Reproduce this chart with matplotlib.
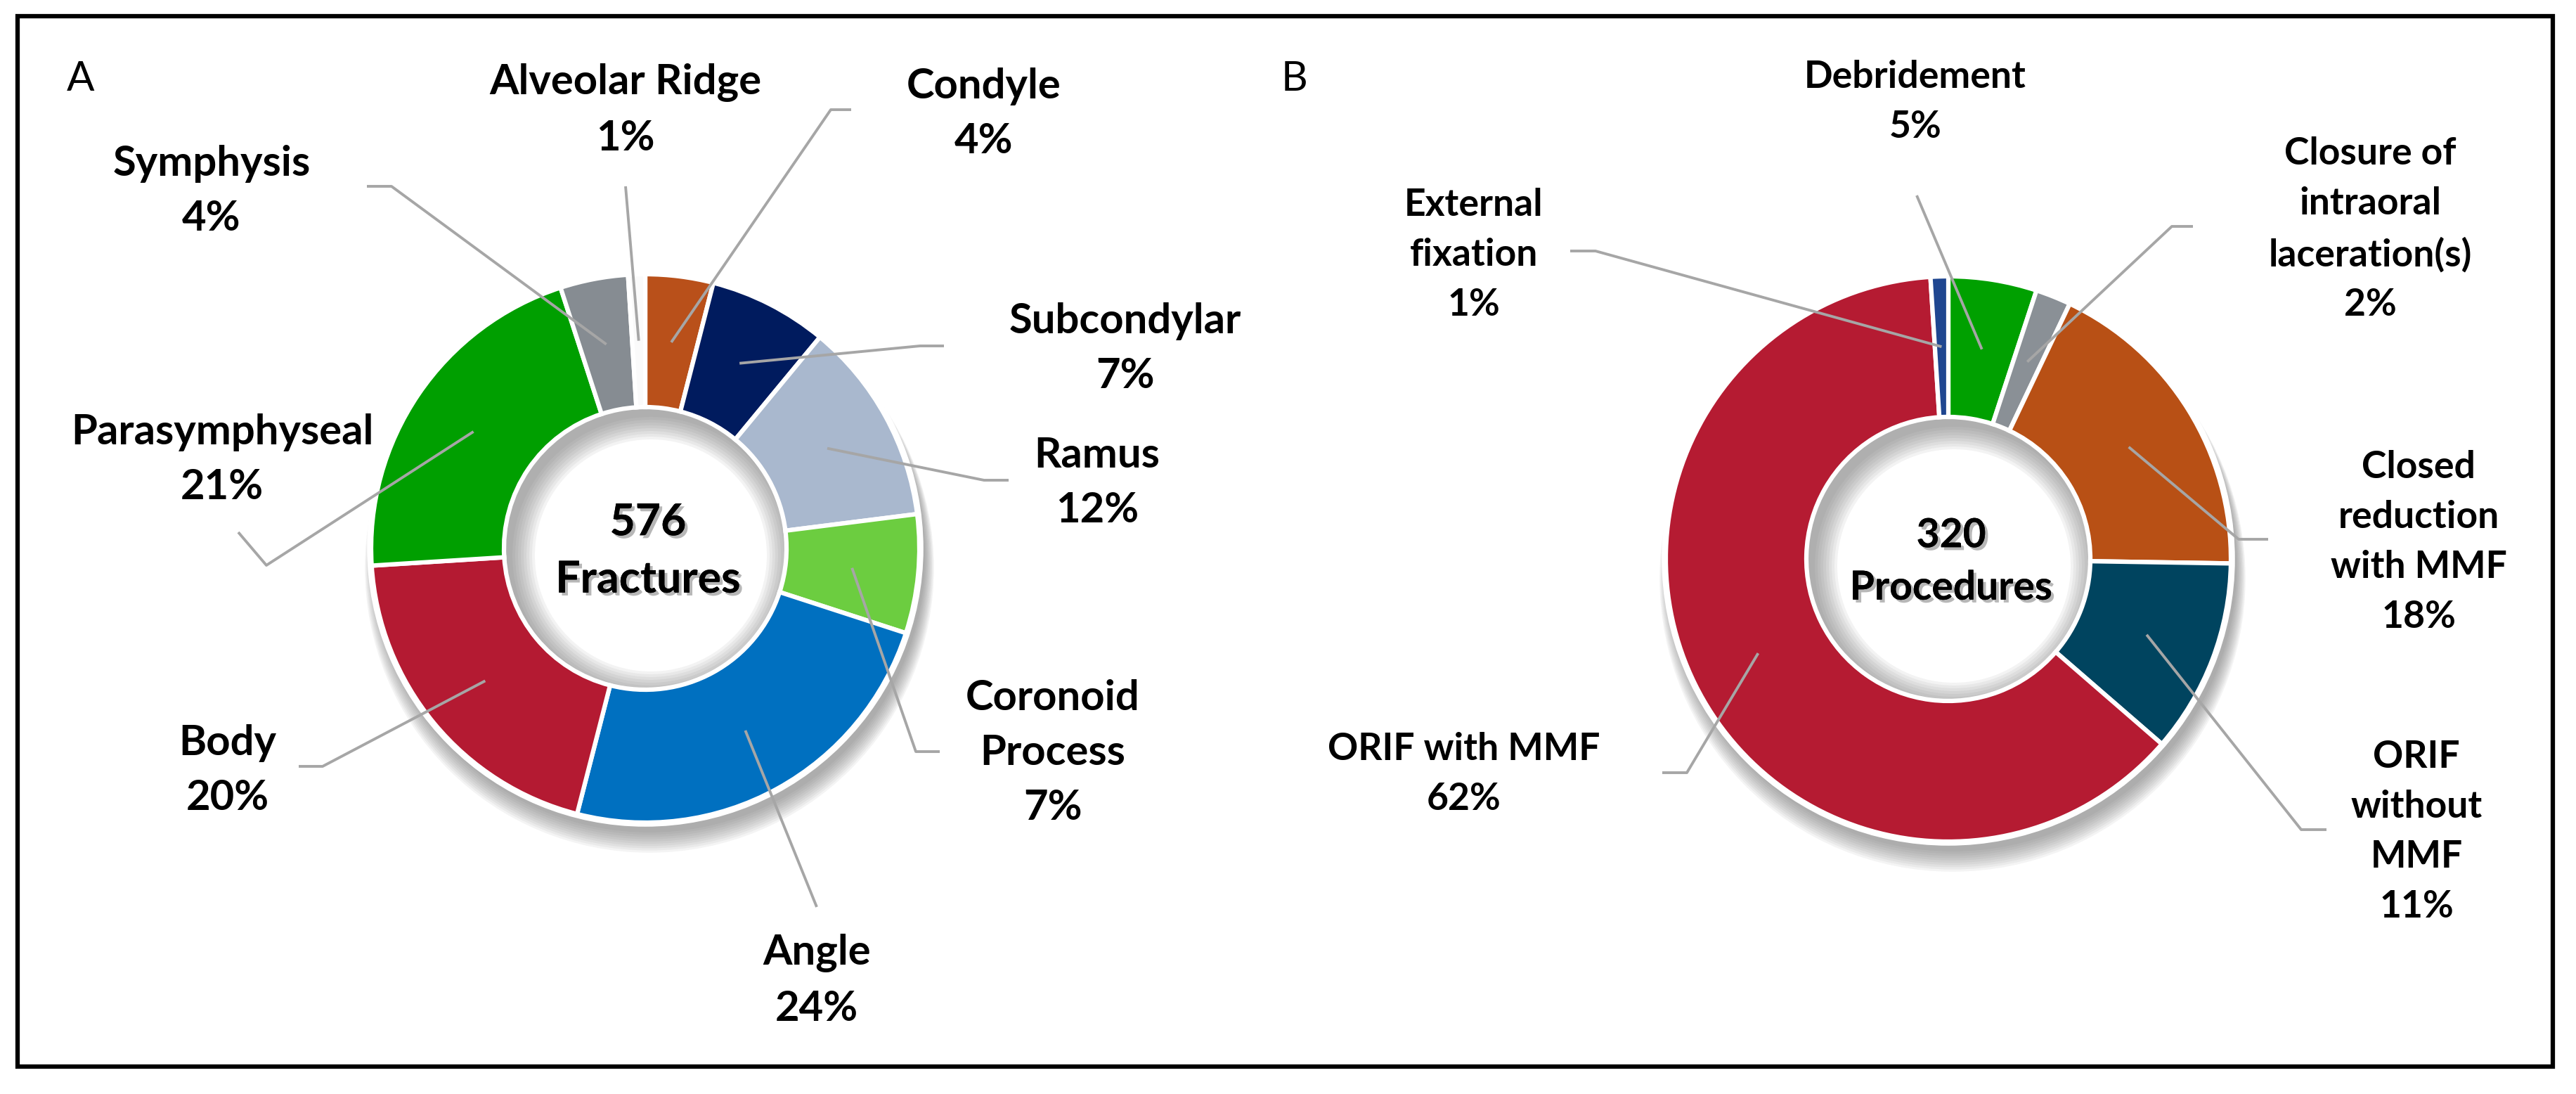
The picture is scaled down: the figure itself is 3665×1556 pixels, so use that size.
import matplotlib
matplotlib.use("Agg")
import matplotlib.pyplot as plt
import matplotlib.patheffects as pe
from matplotlib.patches import Circle, Wedge, Rectangle
import numpy as np

W, H = 3665, 1556

# data
frac_labels = ["Condyle", "Subcondylar", "Ramus", "Coronoid\nProcess", "Angle",
               "Body", "Parasymphyseal", "Symphysis", "Alveolar Ridge"]
frac_pct = [4, 7, 12, 7, 24, 20, 21, 4, 1]
frac_colors = ["#B9501A", "#001B5E", "#A9B8CE", "#6CCD40", "#0070C0",
               "#B41A32", "#009F00", "#868C92", "#FAFAFA"]
frac_total = 576

proc_labels = ["Debridement", "Closure of\nintraoral\nlaceration(s)", "Closed\nreduction\nwith MMF",
               "ORIF\nwithout\nMMF", "ORIF with MMF", "External\nfixation"]
proc_pct = [5, 2, 18, 11, 62, 1]
proc_colors = ["#00A000", "#8A9096", "#B85015", "#00445F", "#B51B32", "#1F4690"]
proc_total = 320

# layout (image pixel coords, y from top)
frac_text_xy = [(1400, 162), (1601, 496), (1561, 687), (1498, 1071), (1162, 1395),
                (324, 1096), (316, 654), (301, 272), (890, 157)]
frac_lead = [[(1211, 156), (1182, 156)], [(1343, 492), (1309, 492)], [(1435, 683), (1400, 683)],
             [(1337, 1069), (1303, 1069)], [(1162, 1290)], [(425, 1090), (459, 1090)],
             [(339, 757), (379, 804)], [(522, 265), (557, 265)], [(890, 265)]]
proc_text_xy = [(2725, 145), (3372, 326), (3441, 771), (3438, 1183), (2083, 1101), (2097, 362)]
proc_lead = [[(2727, 278)], [(3120, 322), (3090, 322)], [(3227, 767), (3185, 767)],
             [(3310, 1180), (3274, 1180)], [(2365, 1099), (2400, 1099)], [(2234, 357), (2270, 357)]]

FONT = ["Lato", "DejaVu Sans"]

fig = plt.figure(figsize=(W / 100, H / 100), dpi=100)
ax = fig.add_axes([0, 0, 1, 1])


def yy(y):
    return H - y


def donut(cx, cy, r_out, r_in, vals, cols, labels, text_xy, leads, total, word, fs, cfs):
    c = (cx, yy(cy))
    # outer drop shadow
    for s in np.linspace(0, 32, 10):
        ax.add_patch(Circle((c[0] + 6, c[1] - 12 - s * 0.5), r_out + 2 + s * 0.4,
                            facecolor="#6f6f6f", alpha=0.075, lw=0, zorder=1))
    hole = Circle(c, r_in, facecolor="white", lw=0, zorder=2)
    ax.add_patch(hole)
    # inner shadow in the hole
    for s in np.linspace(4, 36, 9):
        w = Wedge((c[0] + 8, c[1] - 10), r_in + 150, 0, 360, width=150 + s,
                  facecolor="#6a6a6a", alpha=0.08, lw=0, zorder=3)
        ax.add_patch(w)
        w.set_clip_path(hole)
    wedges, _ = ax.pie(vals, colors=cols, startangle=90, counterclock=False,
                       center=c, radius=r_out, frame=True,
                       wedgeprops=dict(width=r_out - r_in, edgecolor="white", linewidth=4.5))
    for wd in wedges:
        wd.set_zorder(4)
    ax.add_patch(Circle(c, r_out + 3, fill=False, ec="white", lw=4, zorder=4))
    r_mid = (r_out + r_in) / 2
    for wd, lab, v, (tx, ty), ld in zip(wedges, labels, vals, text_xy, leads):
        a = np.deg2rad((wd.theta1 + wd.theta2) / 2)
        anc = (c[0] + r_mid * np.cos(a), c[1] + r_mid * np.sin(a))
        pts = [(p[0], yy(p[1])) for p in ld] + [anc]
        ax.plot([p[0] for p in pts], [p[1] for p in pts], color="#A6A6A6", lw=2.8,
                solid_capstyle="butt", zorder=5)
        ax.text(tx, yy(ty), f"{lab}\n{v}%", ha="center", va="center", ma="center",
                fontsize=fs, fontweight="bold", family=FONT, linespacing=1.55, zorder=6)
    ax.text(c[0] + 4, c[1] - 4, f"{total}\n{word}", ha="center", va="center", ma="center",
            fontsize=cfs, fontweight="bold", family=FONT, linespacing=1.5, zorder=6,
            path_effects=[pe.withSimplePatchShadow(offset=(3, -3), shadow_rgbFace="#888888", alpha=0.6),
                          pe.Normal()])


donut(918, 780, 390, 201, frac_pct, frac_colors, frac_labels, frac_text_xy, frac_lead,
      frac_total, "Fractures", 43, 45)
donut(2772, 795, 402, 202, proc_pct, proc_colors, proc_labels, proc_text_xy, proc_lead,
      proc_total, "Procedures", 38.5, 41)

ax.set_xlim(0, W)
ax.set_ylim(0, H)
ax.set_aspect("auto")
ax.axis("off")

ax.text(115, yy(112), "A", ha="center", va="center", fontsize=42, family=FONT, zorder=6)
ax.text(1842, yy(112), "B", ha="center", va="center", fontsize=42, family=FONT, zorder=6)

ax.add_patch(Rectangle((25, yy(1517)), 3632 - 25, 1517 - 23, fill=False, ec="black",
                       lw=4.5, zorder=7))

fig.savefig("out.png", dpi=100, facecolor="white")
